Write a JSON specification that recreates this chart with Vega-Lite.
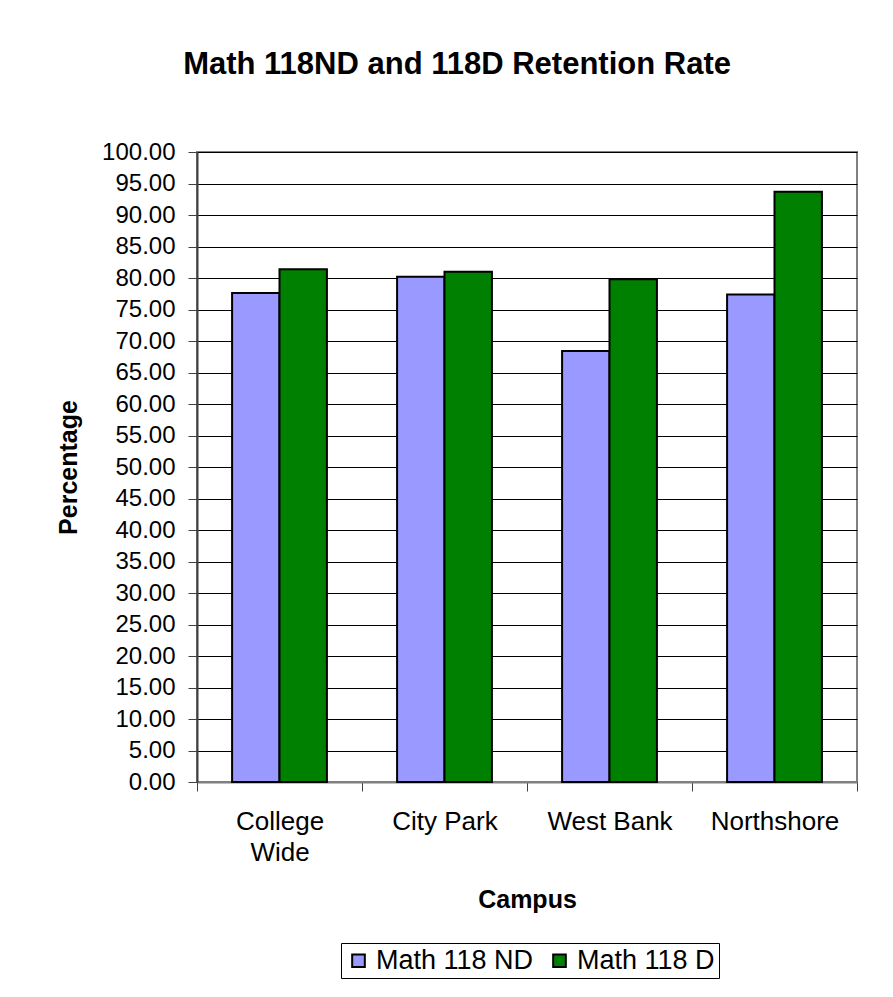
{
  "$schema": "https://vega.github.io/schema/vega-lite/v6.json",
  "autosize": "none",
  "width": 660,
  "height": 630,
  "padding": {"left": 197, "top": 152, "right": 36, "bottom": 215},
  "background": "white",
  "title": {
    "text": "Math 118ND and 118D Retention Rate",
    "font": "Liberation Sans",
    "fontSize": 31,
    "fontWeight": "bold",
    "color": "black",
    "anchor": "middle",
    "frame": "bounds",
    "baseline": "alphabetic",
    "offset": 35
  },
  "data": {
    "values": [
      {"campus": "College Wide", "series": "Math 118 ND", "value": 77.6},
      {"campus": "College Wide", "series": "Math 118 D", "value": 81.4},
      {"campus": "City Park", "series": "Math 118 ND", "value": 80.2},
      {"campus": "City Park", "series": "Math 118 D", "value": 81.0},
      {"campus": "West Bank", "series": "Math 118 ND", "value": 68.4},
      {"campus": "West Bank", "series": "Math 118 D", "value": 79.8},
      {"campus": "Northshore", "series": "Math 118 ND", "value": 77.4},
      {"campus": "Northshore", "series": "Math 118 D", "value": 93.7}
    ]
  },
  "mark": {"type": "bar", "stroke": "black", "strokeWidth": 2},
  "encoding": {
    "x": {
      "field": "campus",
      "type": "nominal",
      "sort": ["College Wide", "City Park", "West Bank", "Northshore"],
      "scale": {"paddingInner": 0, "paddingOuter": 0},
      "axis": {
        "title": "Campus",
        "titleFont": "Liberation Sans",
        "titleFontSize": 25,
        "titleFontWeight": "bold",
        "titleColor": "black",
        "titlePadding": 22,
        "labelFont": "Liberation Sans",
        "labelFontSize": 26,
        "labelColor": "black",
        "labelAngle": 0,
        "labelPadding": 17,
        "labelLineHeight": 31,
        "labelExpr": "datum.label == 'College Wide' ? ['College', 'Wide'] : datum.label",
        "tickBand": "extent",
        "tickExtra": true,
        "tickSize": 9,
        "tickColor": "#404040",
        "domainColor": "#808080",
        "domainWidth": 2
      }
    },
    "xOffset": {
      "field": "series",
      "type": "nominal",
      "sort": ["Math 118 ND", "Math 118 D"],
      "scale": {"paddingInner": 0, "paddingOuter": 0.74}
    },
    "y": {
      "field": "value",
      "type": "quantitative",
      "scale": {"domain": [0, 100], "nice": false},
      "axis": {
        "title": "Percentage",
        "titleFont": "Liberation Sans",
        "titleFontSize": 25,
        "titleFontWeight": "bold",
        "titleColor": "black",
        "titlePadding": 20,
        "values": [0, 5, 10, 15, 20, 25, 30, 35, 40, 45, 50, 55, 60, 65, 70, 75, 80, 85, 90, 95, 100],
        "format": ".2f",
        "labelFont": "Liberation Sans",
        "labelFontSize": 24,
        "labelColor": "black",
        "labelPadding": 13,
        "tickSize": 9,
        "tickColor": "#404040",
        "domainColor": "#404040",
        "domainWidth": 2,
        "grid": true,
        "gridColor": "black",
        "gridWidth": 1
      }
    },
    "color": {
      "field": "series",
      "type": "nominal",
      "scale": {"domain": ["Math 118 ND", "Math 118 D"], "range": ["#9999FF", "#008000"]},
      "legend": {
        "title": null,
        "orient": "none",
        "legendX": 144,
        "legendY": 791,
        "direction": "horizontal",
        "symbolType": "square",
        "symbolSize": 160,
        "symbolStrokeColor": "black",
        "symbolStrokeWidth": 2,
        "symbolOpacity": 1,
        "labelFont": "Liberation Sans",
        "labelFontSize": 27,
        "labelColor": "black",
        "labelOffset": 4,
        "columnPadding": 12,
        "strokeColor": "black",
        "fillColor": "white",
        "padding": 4
      }
    }
  },
  "config": {
    "view": {"stroke": "#808080", "strokeWidth": 2}
  }
}
